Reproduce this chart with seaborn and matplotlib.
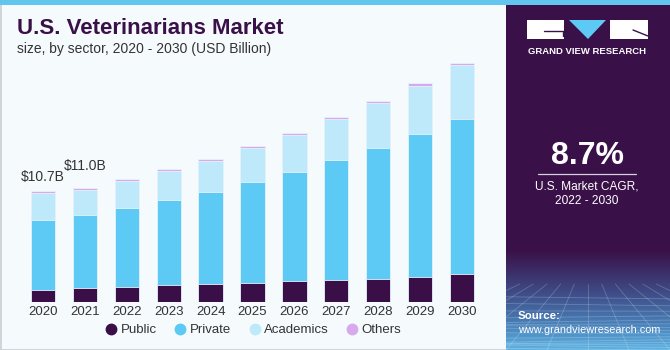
import numpy as np
import pandas as pd
import matplotlib
matplotlib.use("Agg")
import matplotlib.pyplot as plt
from matplotlib.patches import Rectangle, Polygon
from matplotlib.lines import Line2D
from matplotlib.colors import LinearSegmentedColormap
import seaborn as sns

years = ["2020", "2021", "2022", "2023", "2024", "2025", "2026", "2027", "2028", "2029", "2030"]
public = [1.19, 1.38, 1.48, 1.61, 1.71, 1.80, 2.00, 2.10, 2.25, 2.44, 2.70]
private = [6.73, 7.05, 7.63, 8.27, 8.95, 9.76, 10.56, 11.60, 12.63, 13.76, 15.00]
academics = [2.64, 2.42, 2.61, 2.80, 3.00, 3.34, 3.60, 3.99, 4.32, 4.70, 5.16]
others = [0.14, 0.15, 0.14, 0.16, 0.16, 0.16, 0.16, 0.16, 0.19, 0.23, 0.22]
series_names = ["Public", "Private", "Academics", "Others"]
label_years = ["2020", "2021"]
label_texts = ["$10.7B", "$11.0B"]

colors = ["#3A0F47", "#5DCAF6", "#BEE9FA", "#D8A9EC"]
BG = "#F5FAFD"
PURPLE = "#3A1048"

sns.set_theme(style="white")
plt.rcParams["font.family"] = ["Liberation Sans", "DejaVu Sans"]

W, H = 670, 350
fig = plt.figure(figsize=(6.7, 3.5), dpi=100)
fig.patch.set_facecolor(BG)

def fx(x):
    return x / W

def fy(y):
    return 1 - y / H

# left panel border
fig.patches.append(Rectangle((fx(0.5), fy(349.5)), fx(506), 349 / H, transform=fig.transFigure,
                             facecolor=BG, edgecolor="#C9CED2", linewidth=1.2, zorder=0))
# right panel
fig.patches.append(Rectangle((fx(506), 0), fx(164), 1, transform=fig.transFigure,
                             facecolor=PURPLE, edgecolor="none", zorder=1))
# top strip
fig.patches.append(Rectangle((0, fy(5)), 1, 5 / H, transform=fig.transFigure,
                             facecolor="#62C5EE", edgecolor="none", zorder=3))

# gradient at bottom of right panel
gax = fig.add_axes([fx(506), 0, fx(164), 100 / H], zorder=2)
cmap = LinearSegmentedColormap.from_list("g", [(0, "#5DB2E2"), (0.22, "#4A86BE"), (0.55, "#3F4F8A"), (1.0, PURPLE)])
grad = np.linspace(0, 1, 200).reshape(-1, 1)
gax.imshow(grad, aspect="auto", cmap=cmap, origin="lower", extent=[0, 1, 0, 1])
hz = 0.66
for k in range(1, 16):
    yy = hz * (1 - (k / 15) ** 0.55)
    gax.plot([0, 1], [yy + 0.025 * np.sin(k), yy], color="white", alpha=0.22, lw=0.6)
for k in range(-12, 25):
    xt = k / 12
    xb = 0.5 + (xt - 0.5) * 3.0
    gax.plot([xt, xb], [hz, 0], color="white", alpha=0.22, lw=0.6)
gax.set_xlim(0, 1)
gax.set_ylim(0, 1)
gax.axis("off")

# main chart
ax = fig.add_axes([fx(9.5), fy(302), fx(486), 258.75 / H], zorder=4)
ax.set_facecolor("none")
df = pd.DataFrame({"year": years, "Public": public, "Private": private,
                   "Academics": academics, "Others": others})
cum = df[series_names].cumsum(axis=1)
for name, col in reversed(list(zip(series_names, colors))):
    sns.barplot(x=df["year"], y=cum[name], color=col, width=0.58, ax=ax,
                edgecolor="#E6F3FA", linewidth=0.6, saturation=1)

totals = cum["Others"].tolist()
offsets = [10, 16]
for yr, txt, off in zip(label_years, label_texts, offsets):
    i = years.index(yr)
    ax.annotate(txt, xy=(i, totals[i]), xytext=(0, off), textcoords="offset points",
                ha="center", va="center", fontsize=10, color="#333333")

ax.set_xlim(-0.8, 10.8)
ax.set_ylim(0, 25)
ax.set_xlabel("")
ax.set_ylabel("")
ax.set_yticks([])
ax.tick_params(axis="x", length=0, pad=3, labelsize=9.5, labelcolor="#333333")
for s in ax.spines.values():
    s.set_visible(False)

handles = [Line2D([], [], marker="o", linestyle="none", markersize=7.5,
                  markerfacecolor=c, markeredgecolor=c) for c in colors]
fig.legend(handles, series_names, loc="center", bbox_to_anchor=(fx(253), fy(330)), ncol=4,
           frameon=False, fontsize=9.5, handletextpad=0.2, columnspacing=1.3,
           labelcolor="#333333", handlelength=1.0)

# title
fig.text(fx(17), fy(29), "U.S. Veterinarians Market", fontsize=16, fontweight="bold",
         color="#3A1048", va="center", ha="left")
fig.text(fx(17), fy(49), "size, by sector, 2020 - 2030 (USD Billion)", fontsize=10,
         color="#333333", va="center", ha="left")

# logo
fig.patches.append(Rectangle((fx(527), fy(39)), fx(37), 19 / H, transform=fig.transFigure,
                             facecolor="white", edgecolor="none", zorder=5))
fig.patches.append(Rectangle((fx(610), fy(39)), fx(38), 19 / H, transform=fig.transFigure,
                             facecolor="white", edgecolor="none", zorder=5))
fig.patches.append(Polygon([(fx(569), fy(20)), (fx(606), fy(20)), (fx(588), fy(39))],
                           closed=True, transform=fig.transFigure, facecolor="#5DCAF6",
                           edgecolor="none", zorder=5))
fig.lines.append(Line2D([fx(544), fx(563)], [fy(30.5), fy(30.5)], transform=fig.transFigure,
                        color=PURPLE, lw=1.0, zorder=6))
fig.lines.append(Line2D([fx(563), fx(563)], [fy(30.5), fy(36)], transform=fig.transFigure,
                        color=PURPLE, lw=1.0, zorder=6))
fig.lines.append(Line2D([fx(633), fx(648)], [fy(30), fy(36)], transform=fig.transFigure,
                        color=PURPLE, lw=1.0, zorder=6))
fig.text(fx(587.5), fy(51), "GRAND VIEW RESEARCH", fontsize=6.8, fontweight="bold",
         color="white", ha="center", va="center", zorder=6)

# CAGR
fig.text(fx(587), fy(156), "8.7%", fontsize=23, fontweight="bold", color="white",
         ha="center", va="center", zorder=6)
fig.lines.append(Line2D([fx(538), fx(636)], [fy(173.5), fy(173.5)], transform=fig.transFigure,
                        color="#D8D0E0", lw=0.9, zorder=6))
fig.text(fx(587), fy(186), "U.S. Market CAGR,", fontsize=8.6, color="white",
         ha="center", va="center", zorder=6)
fig.text(fx(587), fy(201), "2022 - 2030", fontsize=8.6, color="white",
         ha="center", va="center", zorder=6)

# source
fig.text(fx(518), fy(316), "Source:", fontsize=8.2, fontweight="bold", color="white",
         ha="left", va="center", zorder=6)
fig.text(fx(518), fy(330), "www.grandviewresearch.com", fontsize=7.8, color="white",
         ha="left", va="center", zorder=6)

fig.savefig("out.png", dpi=100, facecolor=fig.get_facecolor())
